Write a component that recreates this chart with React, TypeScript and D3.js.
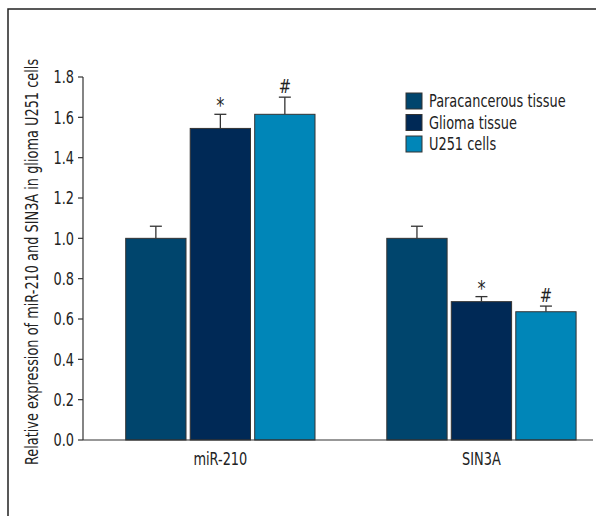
import React from "react";
import * as d3 from "d3";

const groups = ["miR-210", "SIN3A"];
const series = ["Paracancerous tissue", "Glioma tissue", "U251 cells"];
const colors = ["#00456d", "#002956", "#0086b8"];
const means = [
  [1.0, 1.545, 1.615],
  [1.0, 0.686, 0.636],
];
const errors = [
  [0.06, 0.07, 0.085],
  [0.06, 0.025, 0.028],
];
const marks = [
  ["", "*", "#"],
  ["", "*", "#"],
];
const yTicks = [0, 0.2, 0.4, 0.6, 0.8, 1.0, 1.2, 1.4, 1.6, 1.8];
const yLabel = "Relative expression of miR-210 and SIN3A in glioma U251 cells";

const FONT = "'DejaVu Sans Condensed', 'Liberation Sans Narrow', sans-serif";
const SX = 0.82;

function T({ x, y, rotate = 0, anchor = "start", size = 17.5, dy, children }: any) {
  return (
    <g transform={`translate(${x},${y}) rotate(${rotate}) scale(${SX},1)`}>
      <text x={0} y={0} dy={dy} textAnchor={anchor} fontSize={size} fill="#222">
        {children}
      </text>
    </g>
  );
}

export default function App() {
  const W = 596, H = 516;
  const y = d3.scaleLinear().domain([0, 1.8]).range([440, 77]);
  const xg = d3.scaleBand().domain(groups).range([99.6, 602.2]).paddingInner(0.275).paddingOuter(0.1);
  const xs = d3.scaleBand().domain(series).range([0, xg.bandwidth()]).paddingInner(0.065).paddingOuter(0);
  const axisX = 83;
  const ink = "#333";
  return (
    <svg width={W} height={H} style={{ position: "absolute", left: 0, top: 0, background: "#fff" }} fontFamily={FONT}>
      <rect x={8} y={9} width={W} height={H} fill="none" stroke="#222" strokeWidth={1.5} />
      {groups.map((g, gi) =>
        series.map((s, si) => {
          const x0 = (xg(g) as number) + (xs(s) as number);
          const bw = xs.bandwidth();
          const v = means[gi][si];
          const e = errors[gi][si];
          const cx = x0 + bw / 2;
          const m = marks[gi][si];
          return (
            <g key={g + s}>
              <line x1={cx} x2={cx} y1={y(v)} y2={y(v + e)} stroke={ink} strokeWidth={1.3} />
              <line x1={cx - 6} x2={cx + 6} y1={y(v + e)} y2={y(v + e)} stroke={ink} strokeWidth={1.3} />
              <rect x={x0} y={y(v)} width={bw} height={y(0) - y(v)} fill={colors[si]} stroke={ink} strokeWidth={1} />
              {m && (
                <T x={cx} y={y(v + e) - (m === "*" ? 1 : 4)} anchor="middle" size={m === "*" ? 22 : 20}>
                  {m}
                </T>
              )}
            </g>
          );
        })
      )}
      <line x1={axisX} x2={axisX} y1={y(1.8)} y2={y(0)} stroke={ink} strokeWidth={1.2} />
      {yTicks.map((t) => (
        <g key={t}>
          <line x1={axisX - 5} x2={axisX} y1={y(t)} y2={y(t)} stroke={ink} strokeWidth={1.2} />
          <T x={axisX - 9} y={y(t)} dy="0.36em" anchor="end">
            {t.toFixed(1)}
          </T>
        </g>
      ))}
      <line x1={axisX} x2={593} y1={y(0)} y2={y(0)} stroke={ink} strokeWidth={1.2} />
      {groups.map((g) => (
        <T key={g} x={(xg(g) as number) + xg.bandwidth() / 2} y={465} anchor="middle">
          {g}
        </T>
      ))}
      <T x={38} y={262} rotate={-90} anchor="middle">
        {yLabel}
      </T>
      {series.map((s, i) => (
        <g key={s} transform={`translate(406,${93 + i * 21.5})`}>
          <rect x={0} y={0} width={16} height={16} fill={colors[i]} stroke={ink} strokeWidth={1} />
          <T x={23} y={8} dy="0.36em">
            {s}
          </T>
        </g>
      ))}
    </svg>
  );
}
